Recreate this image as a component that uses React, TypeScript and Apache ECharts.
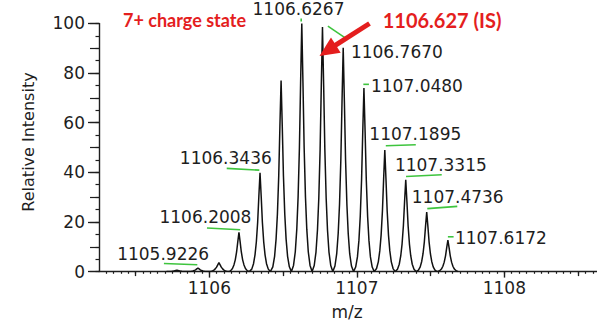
import { useEffect, useRef } from "react";
import * as echarts from "echarts";

// ---- axis ranges and tick labels ----
const X_MIN = 1105.252;
const X_MAX = 1108.628;
const X_LABELS = [1106, 1107, 1108];
const X_HALF_TICKS = [1105.5, 1106.5, 1107.5, 1108.5];
const Y_LABELS = [0, 20, 40, 60, 80, 100];

// ---- isotope peaks (m/z, relative intensity) ----
const PEAK_MZ = [
  1105.78, 1105.9226, 1106.065, 1106.2008, 1106.3436, 1106.4864, 1106.6267,
  1106.767, 1106.9075, 1107.048, 1107.1895, 1107.3315, 1107.4736, 1107.6172,
];
const PEAK_INTENSITY = [
  0.6, 1.4, 3.6, 15.8, 39.8, 77, 100, 98.5, 90.2, 74, 49, 37, 24, 12.7,
];

// peak profile template (offset in m/z, fraction of apex)
const PROFILE_OFFSETS = [
  -0.07, -0.056, -0.044, -0.034, -0.025, -0.016, -0.008, 0, 0.008, 0.016,
  0.025, 0.034, 0.044, 0.056, 0.07,
];
const PROFILE_SHAPE = [
  0, 0.025, 0.08, 0.17, 0.3, 0.5, 0.76, 1, 0.76, 0.5, 0.3, 0.17, 0.08,
  0.025, 0,
];

// ---- labelled peaks ----
const LABELED_PEAKS = [
  "1105.9226", "1106.2008", "1106.3436", "1106.6267", "1106.7670",
  "1107.0480", "1107.1895", "1107.3315", "1107.4736", "1107.6172",
];

const TITLE_TEXT = "7+ charge state";
const IS_TEXT = "1106.627 (IS)";
const X_NAME = "m/z";
const Y_NAME = "Relative Intensity";

// label placement relative to the peak apex (pixels) – layout only
const LABEL_DX = [-34.8, -33.5, -34.2, -3.3, 74.4, 53, 30.5, 35.1, 31, 53];
const LABEL_DY = [-14, -15, -14.4, -14.3, 24.8, -2, -15.8, -15.2, -14.7, -1.8];
const LEADERS = [
  [-34, -4.6, -0.6, -3.3],
  [-32, -4.4, 1.3, -2.7],
  [-33.3, -4.4, -0.7, -2.7],
  [-0.6, -5, -0.6, -2],
  [5.4, -1, 22.7, 10.7],
  [-0.6, -3.6, 5, -3.6],
  [1, -4.3, 31, -5.3],
  [0.3, -3.3, 36, -5],
  [0.6, -3.4, 30.6, -5.7],
  [0, -3.3, 5.7, -3.3],
];

const RED = "#e41e1e";
const GREEN = "#3ec43e";
const INK = "#1e1e1e";
const NUM_FONT = "DejaVu Sans";

export default function App() {
  const ref = useRef<HTMLDivElement>(null);

  useEffect(() => {
    if (!ref.current) return;
    const chart = echarts.init(ref.current, undefined, { renderer: "svg" });

    const profile: number[][] = [];
    PEAK_MZ.forEach((mz, i) => {
      PROFILE_OFFSETS.forEach((off, k) => {
        profile.push([mz + off, PEAK_INTENSITY[i] * PROFILE_SHAPE[k]]);
      });
    });

    const minorTicks: number[] = [];
    for (let k = Math.ceil(X_MIN / 0.05); k * 0.05 <= X_MAX; k++) {
      minorTicks.push(Math.round(k * 0.05 * 100) / 100);
    }

    const baseX = {
      type: "value",
      min: X_MIN,
      max: X_MAX,
      gridIndex: 0,
      position: "bottom",
      offset: 0,
      splitLine: { show: false },
    };
    const baseY = {
      type: "value",
      min: 0,
      max: 100,
      gridIndex: 0,
      position: "left",
      offset: 0,
      splitLine: { show: false },
    };

    const option: any = {
      animation: false,
      backgroundColor: "#ffffff",
      grid: {
        left: 99,
        top: 23.4,
        width: 498,
        height: 248.2,
        containLabel: false,
        outerBoundsMode: "none",
      },
      xAxis: [
        {
          ...baseX,
          axisLine: { show: true, lineStyle: { color: INK, width: 1.4 } },
          axisTick: {
            show: true,
            customValues: X_LABELS,
            length: 6,
            lineStyle: { color: INK, width: 1.4 },
          },
          axisLabel: {
            show: true,
            customValues: X_LABELS,
            margin: 8,
            color: INK,
            fontFamily: NUM_FONT,
            fontSize: 17,
            formatter: (v: number) => String(Math.round(v)),
          },
        },
        {
          ...baseX,
          axisLine: { show: false },
          axisTick: {
            show: true,
            customValues: X_HALF_TICKS,
            length: 4.5,
            lineStyle: { color: INK, width: 1.3 },
          },
          axisLabel: { show: false },
        },
        {
          ...baseX,
          axisLine: { show: false },
          axisTick: {
            show: true,
            customValues: minorTicks,
            length: 2.2,
            lineStyle: { color: INK, width: 1.2 },
          },
          axisLabel: { show: false },
        },
      ],
      yAxis: [
        {
          ...baseY,
          interval: 20,
          axisLine: { show: true, lineStyle: { color: INK, width: 1.4 } },
          axisTick: { show: true, length: 11, lineStyle: { color: INK, width: 1.3 } },
          axisLabel: {
            show: true,
            margin: 14,
            color: INK,
            fontFamily: NUM_FONT,
            fontSize: 17,
            formatter: (v: number) => (Y_LABELS.includes(v) ? String(v) : ""),
          },
        },
        {
          ...baseY,
          interval: 10,
          axisLine: { show: false },
          axisTick: { show: true, length: 9, lineStyle: { color: INK, width: 1.2 } },
          axisLabel: { show: false },
        },
        {
          ...baseY,
          interval: 5,
          axisLine: { show: false },
          axisTick: { show: true, length: 3.5, lineStyle: { color: INK, width: 1.2 } },
          axisLabel: { show: false },
        },
      ],
      series: [
        {
          type: "line",
          xAxisIndex: 0,
          yAxisIndex: 0,
          data: profile,
          showSymbol: false,
          symbol: "none",
          smooth: false,
          lineStyle: { color: "#111111", width: 1.5 },
          silent: true,
        },
      ],
    };

    chart.setOption(option);

    const graphics: any[] = [];
    LABELED_PEAKS.forEach((lab, j) => {
      const v = parseFloat(lab);
      const idx = PEAK_MZ.findIndex((m) => Math.abs(m - v) < 1e-3);
      if (idx < 0) return;
      const p = chart.convertToPixel({ gridIndex: 0 }, [PEAK_MZ[idx], PEAK_INTENSITY[idx]]) as number[];
      const l = LEADERS[j];
      graphics.push({
        type: "line",
        shape: { x1: p[0] + l[0], y1: p[1] + l[1], x2: p[0] + l[2], y2: p[1] + l[3] },
        style: { stroke: GREEN, lineWidth: 1.6 },
        z: 10,
      });
      graphics.push({
        type: "text",
        x: p[0] + LABEL_DX[j],
        y: p[1] + LABEL_DY[j],
        style: {
          text: lab,
          fill: INK,
          font: `17px "${NUM_FONT}"`,
          align: "center",
          verticalAlign: "middle",
        },
        z: 11,
      });
    });

    graphics.push(
      {
        type: "text",
        x: 123,
        y: 20.3,
        style: {
          text: TITLE_TEXT,
          fill: RED,
          font: 'bold 18px "Lato"',
          align: "left",
          verticalAlign: "middle",
        },
        z: 12,
      },
      {
        type: "text",
        x: 382.7,
        y: 19.7,
        style: {
          text: IS_TEXT,
          fill: RED,
          font: 'bold 20px "Lato"',
          align: "left",
          verticalAlign: "middle",
        },
        z: 12,
      },
      {
        type: "line",
        shape: { x1: 369.5, y1: 23.5, x2: 334, y2: 46.2 },
        style: { stroke: RED, lineWidth: 5 },
        z: 12,
      },
      {
        type: "polygon",
        shape: { points: [[319.5, 56], [340.7, 52.8], [331, 37.6]] },
        style: { fill: RED },
        z: 12,
      },
      {
        type: "text",
        x: 347,
        y: 311.5,
        style: {
          text: X_NAME,
          fill: INK,
          font: `17px "${NUM_FONT}"`,
          align: "center",
          verticalAlign: "middle",
        },
      },
      {
        type: "text",
        x: 28,
        y: 142,
        rotation: Math.PI / 2,
        style: {
          text: Y_NAME,
          fill: INK,
          font: `16px "${NUM_FONT}"`,
          align: "center",
          verticalAlign: "middle",
        },
      }
    );

    chart.setOption({ graphic: graphics });

    return () => chart.dispose();
  }, []);

  return (
    <div
      ref={ref}
      style={{ position: "absolute", left: 0, top: 0, width: 597, height: 320 }}
    />
  );
}
